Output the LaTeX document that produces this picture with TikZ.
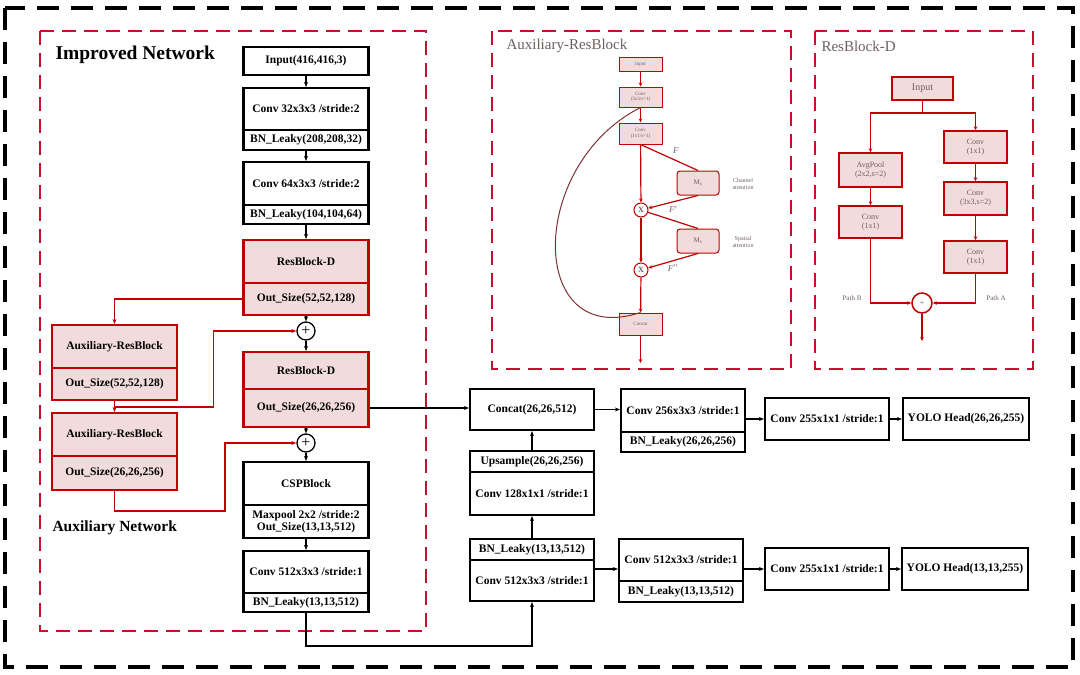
\documentclass[tikz,border=0pt]{standalone}
\usepackage{fontspec}
\setmainfont{Liberation Serif}
\usetikzlibrary{arrows.meta}
\definecolor{darkred}{RGB}{192,0,0}
\definecolor{dashred}{RGB}{200,16,46}
\definecolor{pinkfill}{RGB}{242,220,219}
\definecolor{fadetext}{RGB}{110,95,95}
\begin{document}
\begin{tikzpicture}[x=1pt, y=-1pt,
    box/.style={draw, line width=2.2pt, fill=white, minimum width=125pt, inner sep=0pt, align=center, font=\bfseries\fontsize{11.5}{12.5}\selectfont},
    redbox/.style={box, draw=darkred, fill=pinkfill},
    add/.style={circle, draw, line width=1.3pt, fill=white, minimum size=18pt, inner sep=0pt, font=\fontsize{16}{16}\selectfont},
    arr/.style={line width=1.5pt, -{Stealth[length=5pt,width=4pt]}},
    redarr/.style={arr, draw=darkred},
    frame/.style={line width=2pt, draw=dashred, dash pattern=on 14pt off 8pt},
    sbox/.style={draw=darkred, line width=1pt, fill=pinkfill, minimum width=43pt, inner sep=0pt, align=center, text=fadetext, font=\fontsize{5}{5.5}\selectfont},
    dbox/.style={draw=darkred, line width=1.5pt, fill=pinkfill, minimum width=63pt, inner sep=0pt, align=center, text=fadetext, font=\fontsize{8}{9}\selectfont},
    thin/.style={line width=1.2pt, draw=darkred, -{Stealth[length=4pt,width=3.5pt]}},
    note/.style={text=fadetext, align=center, font=\fontsize{6}{6.5}\selectfont}]
    \useasboundingbox (0,0) rectangle (1080,675);
    \draw [line width=3.5pt, dash pattern=on 22pt off 12pt] (5,8) rectangle (1073,667);
    \draw [frame] (40,31) rectangle (426,631);
    \draw [frame] (492,31) rectangle (791,369);
    \draw [frame] (815,31) rectangle (1033,369);

    % improved network
    \node [anchor=west, font=\bfseries\fontsize{19.5}{19.5}\selectfont](title) at (52,55) {Improved Network};
    \node [anchor=west, font=\bfseries\fontsize{15.5}{15.5}\selectfont](auxtitle) at (49,528) {Auxiliary Network};

    \node [box, minimum height=28pt](inp) at (306,61) {Input(416,416,3)};
    \node [box, minimum height=42pt](c1) at (306,109) {Conv 32x3x3 /stride:2};
    \node [box, minimum height=20pt](b1) at (306,140) {BN\_Leaky(208,208,32)};
    \node [box, minimum height=43pt](c2) at (306,183.5) {Conv 64x3x3 /stride:2};
    \node [box, minimum height=19pt](b2) at (306,214.5) {BN\_Leaky(104,104,64)};
    \node [redbox, minimum height=43pt](r1) at (306,261.5) {ResBlock-D};
    \node [redbox, minimum height=32pt](o1) at (306,299) {Out\_Size(52,52,128)};
    \node [add](p1) at (306,331) {+};
    \node [redbox, minimum height=37pt](r2) at (306,370.5) {ResBlock-D};
    \node [redbox, minimum height=38pt](o2) at (306,408) {Out\_Size(26,26,256)};
    \node [add](p2) at (306,443) {+};
    \node [box, minimum height=43pt](csp) at (306,483.5) {CSPBlock};
    \node [box, minimum height=33pt](mp) at (306,521.5) {Maxpool 2x2 /stride:2\\Out\_Size(13,13,512)};
    \node [box, minimum height=42pt](c3) at (306,572) {Conv 512x3x3 /stride:1};
    \node [box, minimum height=19pt](b3) at (306,602.5) {BN\_Leaky(13,13,512)};

    \node [redbox, minimum height=43pt](a1) at (114.5,346.5) {Auxiliary-ResBlock};
    \node [redbox, minimum height=32pt](ao1) at (114.5,384) {Out\_Size(52,52,128)};
    \node [redbox, minimum height=43pt](a2) at (114.5,434.5) {Auxiliary-ResBlock};
    \node [redbox, minimum height=34pt](ao2) at (114.5,473) {Out\_Size(26,26,256)};

    \node [box, minimum width=124pt, minimum height=41pt](cat) at (532,409.5) {Concat(26,26,512)};
    \node [box, minimum width=124pt, minimum height=21pt](up) at (532,461.5) {Upsample(26,26,256)};
    \node [box, minimum width=124pt, minimum height=43pt](c4) at (532,493.5) {Conv 128x1x1 /stride:1};
    \node [box, minimum width=124pt, minimum height=21pt](b4) at (532,549.5) {BN\_Leaky(13,13,512)};
    \node [box, minimum width=124pt, minimum height=41pt](c5) at (532,580.5) {Conv 512x3x3 /stride:1};
    \node [box, minimum width=124pt, minimum height=43pt](c6) at (683,410.5) {Conv 256x3x3 /stride:1};
    \node [box, minimum width=124pt, minimum height=20pt](b6) at (683,442) {BN\_Leaky(26,26,256)};
    \node [box, minimum width=124pt, minimum height=42pt](c7) at (681,560) {Conv 512x3x3 /stride:1};
    \node [box, minimum width=124pt, minimum height=21pt](b7) at (681,591.5) {BN\_Leaky(13,13,512)};
    \node [box, minimum width=124pt, minimum height=42pt](c8) at (827,419) {Conv 255x1x1 /stride:1};
    \node [box, minimum width=124pt, minimum height=42pt](c9) at (827,569) {Conv 255x1x1 /stride:1};
    \node [box, minimum width=126pt, minimum height=42pt](y1) at (966,419) {YOLO Head(26,26,255)};
    \node [box, minimum width=126pt, minimum height=42pt](y2) at (965,569) {YOLO Head(13,13,255)};

    \draw [arr] (inp) -- (c1);
    \draw [arr] (b1) -- (c2);
    \draw [arr] (b2) -- (r1);
    \draw [arr] (o1) -- (p1);
    \draw [arr] (p1) -- (r2);
    \draw [arr] (o2) -- (p2);
    \draw [arr] (p2) -- (csp);
    \draw [arr] (mp) -- (c3);
    \draw [redarr] (o1.west) -| (a1.north);
    \draw [redarr] (ao1) -- (a2);
    \coordinate (j1) at (114.5,407);
    \draw [redarr] (j1) -- ++(99,0) |- (p1);
    \draw [redarr] (ao2.south) -- ++(0,20) -- ++(110.5,0) |- (p2);
    \draw [arr] (o2.east) -- (o2.east -| cat.west);
    \draw [arr] (b3.south) -- ++(0,33) -| (c5.south);
    \draw [arr] (b4) -- (c4);
    \draw [arr] (up) -- (cat);
    \draw [arr] (cat.east) -- (c6.west |- cat);
    \draw [arr] (c5.east |- c9) -- (c7.west |- c9);
    \draw [arr] (c6.east |- c8) -- (c8.west);
    \draw [arr] (b7.east |- c9) -- (c9.west);
    \draw [arr] (c8) -- (y1);
    \draw [arr] (c9) -- (y2);

    % auxiliary-resblock
    \node [anchor=west, text=fadetext, font=\fontsize{15}{15}\selectfont](auxhead) at (503,46) {Auxiliary-ResBlock};
    \node [sbox, minimum height=14pt](ain) at (640.5,64) {Input};
    \node [sbox, minimum height=20pt](acv1) at (640.5,97) {Conv\\(3x3/s=1)};
    \node [sbox, minimum height=21pt](acv2) at (640.5,133.5) {Conv\\(1x1/s=1)};
    \node [sbox, rounded corners=3pt, minimum width=42pt, minimum height=24pt, font=\fontsize{7}{7}\selectfont](mc) at (698,183) {M\textsubscript{c}};
    \node [sbox, rounded corners=3pt, minimum width=42pt, minimum height=24pt, font=\fontsize{7}{7}\selectfont](ms) at (698,241) {M\textsubscript{s}};
    \node [sbox, circle, minimum width=14pt, minimum size=14pt, fill=white, font=\bfseries\fontsize{8}{8}\selectfont](ax1) at (641,210) {X};
    \node [sbox, circle, minimum width=14pt, minimum size=14pt, fill=white, font=\bfseries\fontsize{8}{8}\selectfont](ax2) at (641,270) {X};
    \node [sbox, minimum height=22pt](acat) at (640.5,324) {Concat};
    \coordinate (aout) at (640.5,363);
    \node [note](cha) at (743,184) {Channel\\attention};
    \node [note](spa) at (743,242) {Spatial\\attention};
    \draw [thin] (ain) -- (acv1);
    \draw [thin] (acv1) -- (acv2);
    \draw [thin] (acv2) -- (ax1);
    \draw [thin] (ax1) -- (ax2);
    \draw [thin] (ax2) -- (acat);
    \draw [thin] (acat) -- (aout);
    \draw [line width=1.2pt, darkred] (acv2.south) -- (mc.north) node [midway, above right, text=fadetext, font=\itshape\fontsize{9}{9}\selectfont] (fa) {F};
    \draw [thin] (mc.south) -- (ax1) node [midway, below, text=fadetext, font=\itshape\fontsize{9}{9}\selectfont] (fb) {F$'$};
    \draw [line width=1.2pt, darkred] (ax1) -- (ms.north);
    \draw [thin] (ms.south) -- (ax2) node [midway, below, text=fadetext, font=\itshape\fontsize{9}{9}\selectfont] (fc) {F$''$};
    \draw [line width=1pt, draw={rgb,255:red,125;green,50;blue,50}] (acv1.south) .. controls (527,165) and (527,350) .. (acat.north);

    % resblock-d
    \node [anchor=west, text=fadetext, font=\fontsize{15}{15}\selectfont](dhead) at (818,46) {ResBlock-D};
    \node [dbox, minimum width=61pt, minimum height=23pt, font=\fontsize{10}{10}\selectfont](din) at (922.5,88.5) {Input};
    \node [dbox, minimum height=34pt](dap) at (870.5,170) {AvgPool\\(2x2,s=2)};
    \node [dbox, minimum height=32pt](dcl) at (870.5,222) {Conv\\(1x1)};
    \node [dbox, minimum height=32pt](dc1) at (975.5,147) {Conv\\(1x1)};
    \node [dbox, minimum height=33pt](dc2) at (975.5,198.5) {Conv\\(3x3,s=2)};
    \node [dbox, minimum height=32pt](dc3) at (975.5,257) {Conv\\(1x1)};
    \node [dbox, circle, minimum width=20pt, minimum size=20pt, fill=white](dadd) at (922,303) {+};
    \coordinate (dsplit) at (922.5,113);
    \coordinate (dout) at (922,341);
    \node [note, font=\fontsize{7}{7}\selectfont](pb) at (852,298) {Path B};
    \node [note, font=\fontsize{7}{7}\selectfont](pa) at (996,298) {Path A};
    \draw [line width=1.2pt, darkred] (din) -- (dsplit);
    \draw [thin] (dsplit) -| (dap.north);
    \draw [thin] (dsplit) -| (dc1.north);
    \draw [thin] (dap) -- (dcl);
    \draw [thin] (dc1) -- (dc2);
    \draw [thin] (dc2) -- (dc3);
    \draw [thin] (dcl.south) |- (dadd);
    \draw [thin] (dc3.south) |- (dadd);
    \draw [thin] (dadd) -- (dout);
\end{tikzpicture}
\end{document}
